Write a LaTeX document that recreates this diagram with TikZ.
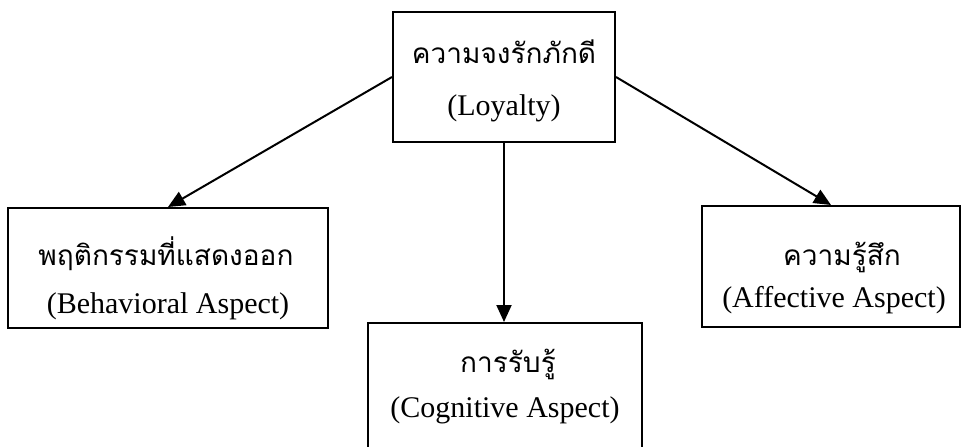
\documentclass[tikz,border=0pt]{standalone}
\usepackage{fontspec}
\setmainfont{Liberation Serif}
\newfontfamily\thaifont[Script=Thai]{Loma}
\usetikzlibrary{arrows.meta}
\definecolor{wmark}{RGB}{230,241,233}
\tikzset{
  boxnode/.style={draw=black, line width=2pt, fill=none, inner sep=0pt},
  thaitext/.style={anchor=base, inner sep=0pt, font=\thaifont\fontsize{28}{32}\selectfont},
  engtext/.style={anchor=base, inner sep=0pt, font=\fontsize{30}{34}\selectfont},
  arrowline/.style={line width=2pt, -{Triangle[length=17pt,width=15pt]}}
}
\begin{document}
\begin{tikzpicture}[x=1pt,y=-1pt]
\useasboundingbox (0,0) rectangle (961,447);
% faint watermark ring
\draw[wmark, line width=20pt] (480,470) ++(160:245) arc[start angle=160, end angle=20, radius=245];
% boxes
\node[boxnode, minimum width=222pt, minimum height=130pt] (top) at (504,77) {};
\node[boxnode, minimum width=320pt, minimum height=120pt] (left) at (168,268) {};
\node[boxnode, minimum width=258pt, minimum height=121pt] (right) at (831,266.5) {};
\node[boxnode, minimum width=274pt, minimum height=150pt] (bot) at (505,398) {};
% texts
\node[thaitext] (t1) at (504,63) {ความจงรักภักดี};
\node[engtext] (e1) at (504,115) {(Loyalty)};
\node[thaitext] (t2) at (166,265) {พฤติกรรมที่แสดงออก};
\node[engtext] (e2) at (168,313) {(Behavioral Aspect)};
\node[thaitext] (t3) at (842,265) {ความรู้สึก};
\node[engtext] (e3) at (834,307) {(Affective Aspect)};
\node[thaitext] (t4) at (508,372) {การรับรู้};
\node[engtext] (e4) at (505,417) {(Cognitive Aspect)};
% arrows
\draw[arrowline] (top.west) -- (left.north);
\draw[arrowline] (top.east) -- (right.north);
\draw[arrowline] (top.south) -- (top.south |- bot.north);
\end{tikzpicture}
\end{document}
